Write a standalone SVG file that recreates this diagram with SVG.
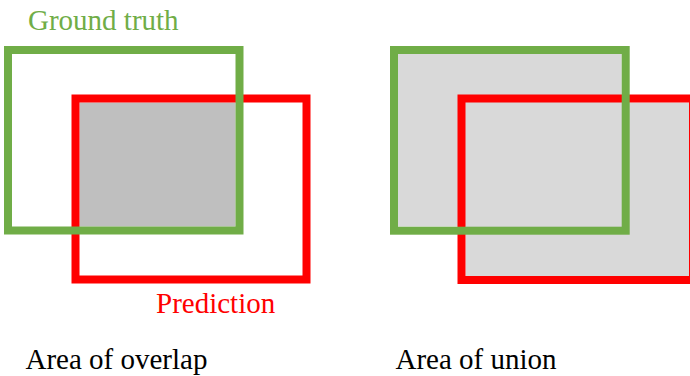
<svg xmlns="http://www.w3.org/2000/svg" width="690" height="376" viewBox="0 0 690 376">
<style>
.gt{fill:none;stroke:#70ad47;stroke-width:8}
.pr{fill:none;stroke:#ff0000;stroke-width:8}
.t{font-size:29px}
</style>
<rect width="690" height="376" fill="#ffffff"/>
<g id="overlap-panel">
  <rect id="overlap-fill" x="79.5" y="102.5" width="156" height="124" fill="#bfbfbf"/>
  <g id="prediction-left"><rect class="pr" x="75.5" y="98.5" width="231" height="181"/></g>
  <g id="groundtruth-left"><rect class="gt" x="8" y="50" width="231.5" height="180.5"/></g>
  <text class="t" font-family="Liberation Serif, serif" x="28" y="30" fill="#70ad47">Ground truth</text>
  <text class="t" font-family="Liberation Serif, serif" x="156" y="313" fill="#ff0000">Prediction</text>
  <text class="t" font-family="Liberation Serif, serif" x="25.5" y="369" fill="#000000">Area of overlap</text>
</g>
<g id="union-panel">
  <path id="union-fill" d="M398 54H621.7V102.5H689V276H465.5V226.5H398Z" fill="#d9d9d9"/>
  <g id="prediction-right"><rect class="pr" x="461.5" y="98.5" width="231.5" height="181.5"/></g>
  <g id="groundtruth-right"><rect class="gt" x="394" y="50" width="231.7" height="180.7"/></g>
  <text class="t" font-family="Liberation Serif, serif" x="395.5" y="369" fill="#000000">Area of union</text>
</g>
<g id="connectors"></g>
</svg>
